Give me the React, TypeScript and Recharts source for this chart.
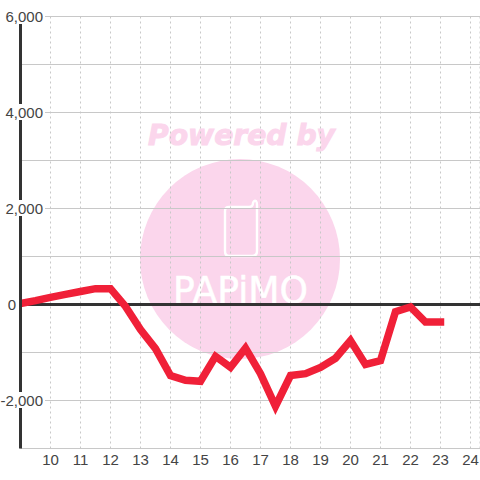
import React from "react";
import { LineChart, Line, XAxis, YAxis, CartesianGrid, ReferenceLine } from "recharts";

const hours = [9,9.5,10,10.5,11,11.5,12,12.5,13,13.5,14,14.5,15,15.5,16,16.5,17,17.5,18,18.5,19,19.5,20,20.5,21,21.5,22,22.5,23];
const values = [20,80,150,210,270,330,330,-40,-520,-920,-1480,-1580,-1600,-1080,-1310,-910,-1440,-2120,-1480,-1440,-1310,-1120,-750,-1250,-1170,-150,-50,-365,-365];
const xTicks = [10,11,12,13,14,15,16,17,18,19,20,21,22,23,24];
const yTicks = [-3000,-2000,-1000,0,1000,2000,3000,4000,5000,6000];
const yLabelled = [-2000,0,2000,4000,6000];

const data = hours.map((h, i) => ({ h, v: values[i] }));
const FONT = "'Liberation Sans', Arial, sans-serif";

function YTick(props: any) {
  const { payload, y } = props;
  const v = payload.value;
  if (!yLabelled.includes(v)) return null;
  const label = v.toLocaleString("en-US");
  if (v === 0) {
    return <text x={16} y={y + 5} textAnchor="end" fontSize={15} fontFamily={FONT} fill="#444">{label}</text>;
  }
  const left = v < 0 ? 2 : 6;
  return (
    <g>
      <rect x={left} y={y - 8.5} width={45 - left} height={16} fill="#fff" />
      <text x={43} y={y + 5} textAnchor="end" fontSize={15} fontFamily={FONT} fill="#444">{label}</text>
    </g>
  );
}

function Logo() {
  return (
    <svg width={480} height={480} style={{ position: "absolute", left: 0, top: 0 }}>
      <text x={148} y={145} fontFamily="'DejaVu Sans'" fontWeight="bold" fontStyle="italic" fontSize={29} fill="#fbd6ec" stroke="#fbd6ec" strokeWidth={1} textLength={187} lengthAdjust="spacingAndGlyphs">Powered by</text>
      <circle cx={240} cy={259} r={100} fill="#fbd6ec" />
      <path d="M229 207 H249 Q253 207 253 203 Q254 200 256 201 Q257 202 257 205 V251 Q257 256 252 256 H229 Q225 256 225 251 V211 Q225 207 229 207 Z" fill="none" stroke="#fff" strokeWidth={2.4} />
      <text x={173} y={303} fontFamily="'DejaVu Sans'" fontSize={38} fill="#fff" stroke="#fff" strokeWidth={0.5} textLength={135} lengthAdjust="spacingAndGlyphs">PAPiMO</text>
    </svg>
  );
}

export default function App() {
  return (
    <div style={{ position: "fixed", left: 0, top: 0, width: 480, height: 480, background: "#fff" }}>
      <Logo />
      <div style={{ position: "absolute", left: 0, top: 0 }}>
        <LineChart width={480} height={480} data={data} margin={{ top: 16.5, right: 0, bottom: 11.5, left: 0 }}>
          <CartesianGrid vertical={false} stroke="#c8c8c8" strokeWidth={1} />
          <CartesianGrid horizontal={false} stroke="#c8c8c8" strokeDasharray="2 3" />
          <XAxis dataKey="h" type="number" domain={[9, 24.317]} ticks={xTicks} allowDataOverflow axisLine={false} tickLine={false} height={20} tickMargin={0} tick={{ fontSize: 15, fontFamily: FONT, fill: "#444" }} interval={0} />
          <YAxis type="number" domain={[-3000, 6000]} ticks={yTicks} width={20.5} interval={0} axisLine={{ stroke: "#333", strokeWidth: 3 }} tickLine={false} tick={<YTick />} />
          <ReferenceLine y={0} stroke="#333" strokeWidth={3} />
          <Line dataKey="v" stroke="#f02038" strokeWidth={7.5} dot={false} isAnimationActive={false} strokeLinejoin="miter" strokeLinecap="square" />
        </LineChart>
      </div>
    </div>
  );
}
